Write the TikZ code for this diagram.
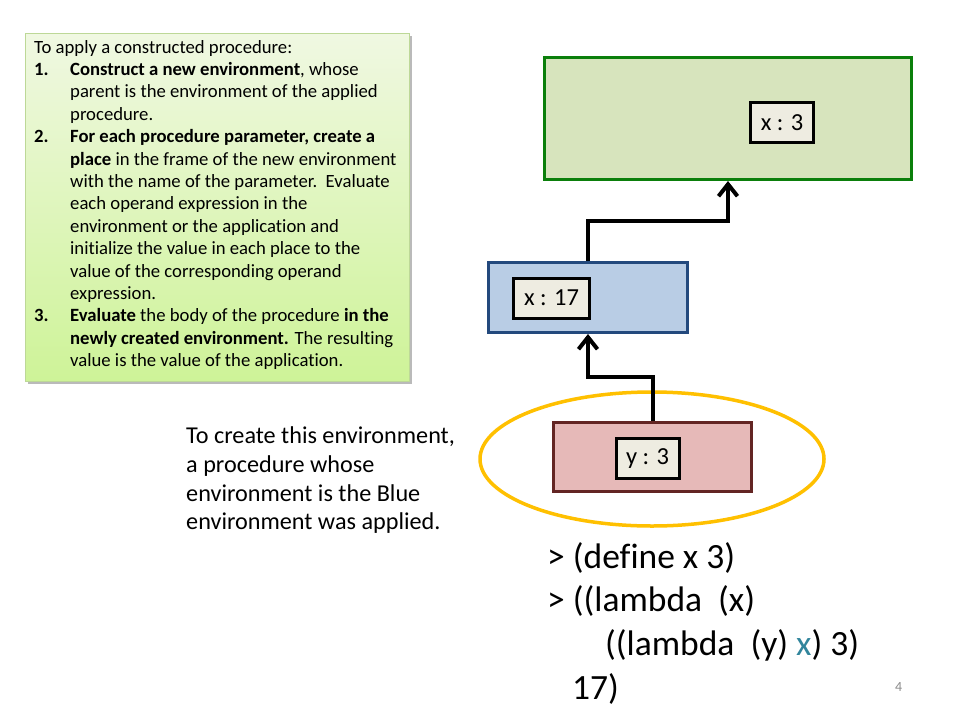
\documentclass[tikz,border=0pt]{standalone}
\usepackage{fontspec}
\setmainfont{Carlito}[Ligatures={NoCommon}]
\usetikzlibrary{arrows.meta,shapes.geometric,shadows}
\definecolor{greenfill}{HTML}{D7E4BD}
\definecolor{greenline}{HTML}{0B7F0B}
\definecolor{bluefill}{HTML}{B9CDE5}
\definecolor{blueline}{HTML}{23497D}
\definecolor{redfill}{HTML}{E6B9B8}
\definecolor{redline}{HTML}{632523}
\definecolor{placefill}{HTML}{EEECE1}
\definecolor{ringcol}{HTML}{FFC000}
\definecolor{notetop}{HTML}{F0F8E2}
\definecolor{notebot}{HTML}{CEF398}
\definecolor{noteline}{HTML}{BDD897}
\definecolor{codeblue}{HTML}{31859C}
\definecolor{pagegray}{HTML}{8C8C8C}
\tikzset{
  envbox/.style={draw, line width=3pt, inner sep=0pt},
  placebox/.style={draw=black, fill=placefill, line width=3pt, inner sep=0pt,
    minimum width=63pt, minimum height=40pt, font=\fontsize{24.5}{28}\selectfont},
  linkarrow/.style={line width=4pt, -{Straight Barb[length=12pt,width=19pt]}},
  noteline/.style={anchor=base west, inner sep=0pt, font=\fontsize{18.7}{22}\selectfont},
  captline/.style={anchor=base west, inner sep=0pt, font=\fontsize{24.2}{29}\selectfont},
  codeline/.style={anchor=base west, inner sep=0pt, font=\fontsize{35.5}{43}\selectfont},
}
\begin{document}
\begin{tikzpicture}[x=1pt,y=-1pt]
\useasboundingbox[fill=white] (0,0) rectangle (960,720);

% note box
\node[draw=noteline, line width=0.8pt, top color=notetop, bottom color=notebot,
  minimum width=384pt, minimum height=348pt, inner sep=0pt,
  drop shadow={shadow xshift=3pt, shadow yshift=-3pt, opacity=0.45, fill=black!60}]
  (note) at (217,207) {};
\node[noteline] (n1) at (34,53.0) {To apply a constructed procedure:};
\node[noteline] (n2) at (34,75.4) {\makebox[36pt][l]{\textbf{1.}}\textbf{Construct a new environment}, whose};
\node[noteline] (n3) at (70,97.8) {parent is the environment of the applied};
\node[noteline] (n4) at (70,120.2) {procedure.};
\node[noteline] (n5) at (34,142.6) {\makebox[36pt][l]{\textbf{2.}}\textbf{For each procedure parameter, create a}};
\node[noteline] (n6) at (70,165.0) {\textbf{place} in the frame of the new environment};
\node[noteline] (n7) at (70,187.4) {with the name of the parameter.\ \ Evaluate};
\node[noteline] (n8) at (70,209.8) {each operand expression in the};
\node[noteline] (n9) at (70,232.2) {environment or the application and};
\node[noteline] (n10) at (70,254.6) {initialize the value in each place to the};
\node[noteline] (n11) at (70,277.0) {value of the corresponding operand};
\node[noteline] (n12) at (70,299.4) {expression.};
\node[noteline] (n13) at (34,321.8) {\makebox[36pt][l]{\textbf{3.}}\textbf{Evaluate} the body of the procedure \textbf{in the}};
\node[noteline] (n14) at (70,344.2) {\textbf{newly created environment.} The resulting};
\node[noteline] (n15) at (70,366.6) {value is the value of the application.};

% ring
\node[ellipse, draw=ringcol, line width=3.5pt, minimum width=344pt, minimum height=134pt, inner sep=0pt]
  (ring) at (652,459) {};

% environments
\node[envbox, draw=greenline, fill=greenfill, minimum width=367pt, minimum height=122pt]
  (green) at (728,118.5) {};
\node[envbox, draw=blueline, fill=bluefill, minimum width=199pt, minimum height=70pt]
  (blue) at (588,297.5) {};
\node[envbox, draw=redline, fill=redfill, minimum width=198pt, minimum height=69pt]
  (red) at (652.5,457) {};

% places
\node[placebox] (px3) at (782,122.5) {x : 3};
\node[placebox, minimum width=76pt] (px17) at (551.5,298) {x : 17};
\node[placebox] (py3) at (647.5,458.5) {y : 3};

% links
\draw[linkarrow] (red.north) -- ++(0,-44) -| (blue.south);
\draw[linkarrow] (blue.north) -- ++(0,-40) -| (green.south);

% caption
\node[captline] (k1) at (186,443) {To create this environment,};
\node[captline] (k2) at (186,472) {a procedure whose};
\node[captline] (k3) at (186,501) {environment is the Blue};
\node[captline] (k4) at (186,529) {environment was applied.};

% code
\node[codeline] (c1) at (547,568) {> (define x 3)};
\node[codeline] (c2) at (547,611.7) {> ((lambda\hspace{8pt} (x)};
\node[codeline] (c3) at (605,655.4) {((lambda\hspace{8pt} (y) \textcolor{codeblue}{x}) 3)};
\node[codeline] (c4) at (572,699) {17)};

\node[anchor=base west, inner sep=0pt, text=pagegray, font=\fontsize{14}{16}\selectfont]
  (page) at (895,691) {4};
\end{tikzpicture}
\end{document}
